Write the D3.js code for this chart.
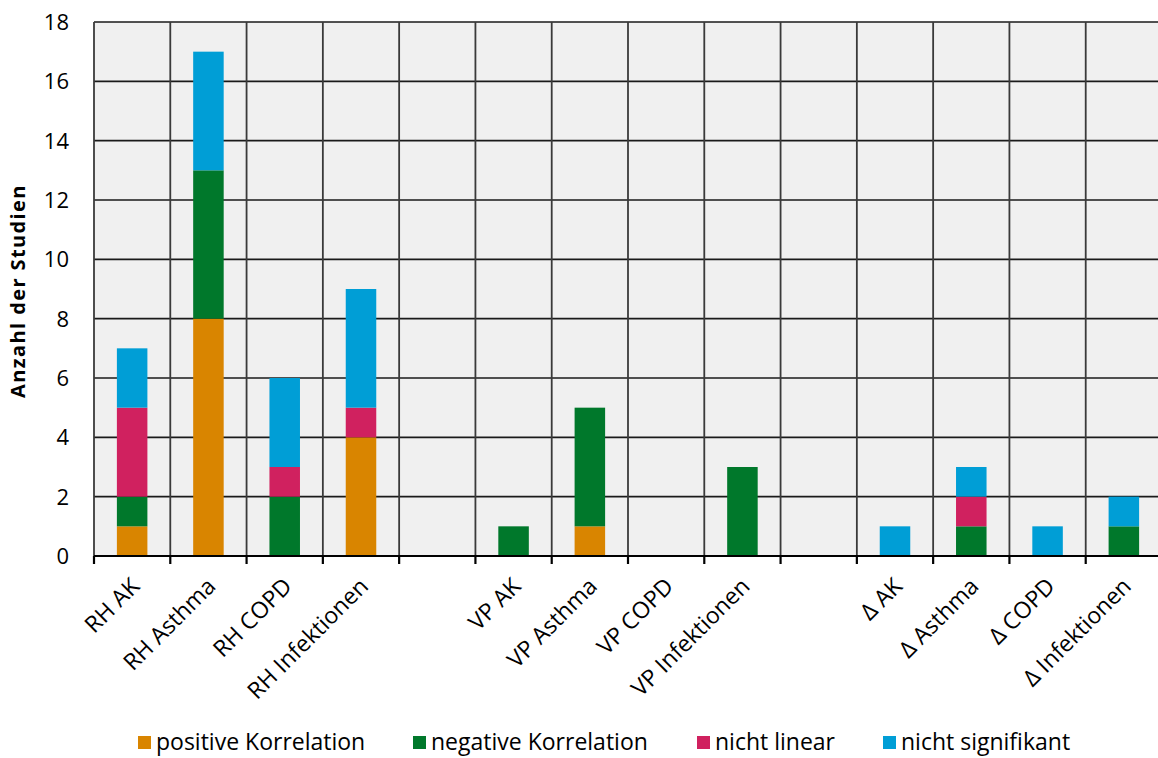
<!DOCTYPE html>
<html><head><meta charset="utf-8">
<script src="https://cdn.jsdelivr.net/npm/d3@7"></script>
<style>body{margin:0;background:#fff;} text{font-family:"Open Sans",sans-serif;}</style>
</head><body><svg id="c" width="1158" height="758"></svg>
<script>
const categories = ["RH AK","RH Asthma","RH COPD","RH Infektionen","","VP AK","VP Asthma","VP COPD","VP Infektionen","","Δ AK","Δ Asthma","Δ COPD","Δ Infektionen"];
const positiveKorrelation = [1,8,0,4,0,0,1,0,0,0,0,0,0,0];
const negativeKorrelation = [1,5,2,0,0,1,4,0,3,0,0,1,0,1];
const nichtLinear        = [3,0,1,1,0,0,0,0,0,0,0,1,0,0];
const nichtSignifikant   = [2,4,3,4,0,0,0,0,0,0,1,1,1,1];
const seriesNames = ["positive Korrelation","negative Korrelation","nicht linear","nicht signifikant"];
const seriesColors = ["#d98500","#00782b","#d0215f","#009ed6"];
const yTicks = [0,2,4,6,8,10,12,14,16,18];

const svg = d3.select("#c");
const L=94, R=1162, T=22, B=556;
const idx = categories.map((d,i)=>i);
const x = d3.scaleBand().domain(idx).range([L,R]).paddingInner(0).paddingOuter(0);
const y = d3.scaleLinear().domain([0,18]).range([B,T]);

// background
svg.append("rect").attr("x",L).attr("y",T).attr("width",R-L).attr("height",B-T).attr("fill","#f0f0f0");

// horizontal grid
svg.append("g").selectAll("line").data(yTicks.filter(d=>d>0)).join("line")
  .attr("x1",L).attr("x2",R).attr("y1",d=>y(d)).attr("y2",d=>y(d))
  .attr("stroke","#1a1a1a").attr("stroke-width",1.6);
// vertical grid
const bounds = idx.map(i=>x(i)).concat([R]);
svg.append("g").selectAll("line").data(bounds).join("line")
  .attr("x1",d=>d).attr("x2",d=>d).attr("y1",T).attr("y2",B)
  .attr("stroke","#3a3a3a").attr("stroke-width",1.8);

// stacked bars
const table = idx.map(i=>({i, s0:positiveKorrelation[i], s1:negativeKorrelation[i], s2:nichtLinear[i], s3:nichtSignifikant[i]}));
const stack = d3.stack().keys(["s0","s1","s2","s3"])(table);
const bw = x.bandwidth()*0.4;
svg.append("g").selectAll("g").data(stack).join("g").attr("fill",(d,k)=>seriesColors[k])
  .selectAll("rect").data(d=>d.filter(p=>p[1]>p[0])).join("rect")
  .attr("x",p=>x(p.data.i)+x.bandwidth()/2-bw/2).attr("width",bw)
  .attr("y",p=>y(p[1])).attr("height",p=>y(p[0])-y(p[1]));

// x axis line and ticks
svg.append("line").attr("x1",L).attr("x2",R).attr("y1",B).attr("y2",B).attr("stroke","#000").attr("stroke-width",2.2);
svg.append("g").selectAll("line").data(bounds).join("line")
  .attr("x1",d=>d).attr("x2",d=>d).attr("y1",B).attr("y2",B+8).attr("stroke","#000").attr("stroke-width",2.2);

// y tick labels
svg.append("g").selectAll("text").data(yTicks).join("text")
  .attr("x",69).attr("y",d=>y(d)).attr("dy","0.36em").attr("text-anchor","end")
  .attr("font-size",22).attr("fill","#000").text(d=>d);

// x labels
svg.append("g").selectAll("text").data(idx.filter(i=>categories[i]!=="")).join("text")
  .attr("transform",i=>`translate(${x(i)+x.bandwidth()/2+3},582) rotate(-45)`)
  .attr("text-anchor","end").attr("dy","0.35em").attr("font-size",23).attr("fill","#000")
  .text(i=>categories[i]);

// y axis title
svg.append("text").attr("transform",`translate(25,${(T+B)/2+2}) rotate(-90)`)
  .attr("text-anchor","middle").attr("font-size",20).attr("letter-spacing",1.4).attr("font-weight","bold").text("Anzahl der Studien");

// legend
const legX = [138,413,697,883];
const lg = svg.append("g").selectAll("g").data(seriesNames).join("g")
  .attr("transform",(d,k)=>`translate(${legX[k]},742)`);
lg.append("rect").attr("x",0).attr("y",-6).attr("width",13).attr("height",13).attr("fill",(d,k)=>seriesColors[k]);
lg.append("text").attr("x",18).attr("y",0).attr("dy","0.36em").attr("font-size",23).text(d=>d);
</script></body></html>
